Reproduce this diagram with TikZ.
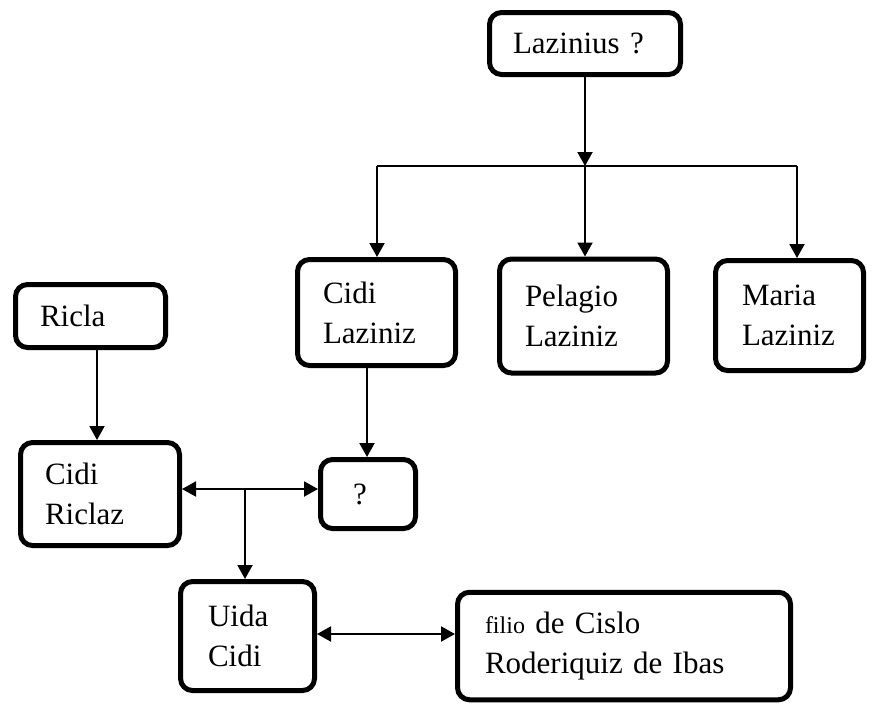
\documentclass[tikz,border=0pt]{standalone}
\usepackage{fontspec}
\setmainfont{Liberation Serif}
\usetikzlibrary{arrows.meta}
\newcommand\fsbig{\fontsize{31}{40}\selectfont}
\newcommand\fssmall{\fontsize{24}{40}\selectfont}
\tikzset{
  box/.style={draw, line width=5pt, rounded corners=12pt, align=left,
    anchor=center, inner ysep=0pt, font=\fsbig},
  conn/.style={line width=2pt},
  arr/.style={line width=2pt, -{Triangle[length=14pt,width=15pt]}},
  darr/.style={line width=2pt, {Triangle[length=14pt,width=15pt]}-{Triangle[length=14pt,width=15pt]}}
}
\begin{document}
\begin{tikzpicture}[x=1pt,y=-1pt]
\useasboundingbox (0,0) rectangle (872,702);
% boxes
\node[box, minimum width=191pt, minimum height=62pt, inner xsep=23.5pt, text width=144pt] (laz) at (585,43.5) {Lazinius ?};
\node[box, minimum width=158pt, minimum height=106pt, inner xsep=25.5pt, text width=107pt] (cidil) at (376.5,312.5) {Cidi\\Laziniz};
\node[box, minimum width=168pt, minimum height=114pt, inner xsep=25.5pt, text width=117pt] (pel) at (583.5,316) {Pelagio\\Laziniz};
\node[box, minimum width=148pt, minimum height=110pt, inner xsep=26.5pt, text width=95pt] (mar) at (789.5,315.5) {Maria\\Laziniz};
\node[box, minimum width=150pt, minimum height=63pt, inner xsep=24.5pt, text width=101pt] (ricla) at (90.5,316) {Ricla};
\node[box, minimum width=159pt, minimum height=103pt, inner xsep=24.5pt, text width=110pt] (cidir) at (100,494) {Cidi\\Riclaz};
\node[box, minimum width=95pt, minimum height=69pt, inner xsep=32.5pt, text width=30pt] (q) at (368,494) {?};
\node[box, minimum width=134pt, minimum height=109pt, inner xsep=27.5pt, text width=79pt] (uida) at (247.5,636) {Uida\\Cidi};
\node[box, minimum width=333pt, minimum height=107.5pt, inner xsep=27.5pt, text width=278pt] (filio) at (624,646) {{\fssmall filio} de Cislo\\Roderiquiz de Ibas};
% junction coordinates
\coordinate (jl) at (377,166);
\coordinate (jm) at (585,166);
\coordinate (jr) at (797,166);
\coordinate (jb) at (245,489);
% connectors
\draw[arr] (laz.south -| jm) -- (jm);
\draw[conn] (jl) -- (jr);
\draw[arr] (jl) -- (jl |- cidil.north);
\draw[arr] (jm) -- (jm |- pel.north);
\draw[arr] (jr) -- (jr |- mar.north);
\draw[arr] (97,0 |- ricla.south) -- (97,0 |- cidir.north);
\draw[arr] (367,0 |- cidil.south) -- (367,0 |- q.north);
\draw[darr] (cidir.east |- jb) -- (q.west |- jb);
\draw[arr] (jb) -- (jb |- uida.north);
\draw[darr] (uida.east |- 0,634) -- (filio.west |- 0,634);
\end{tikzpicture}
\end{document}
